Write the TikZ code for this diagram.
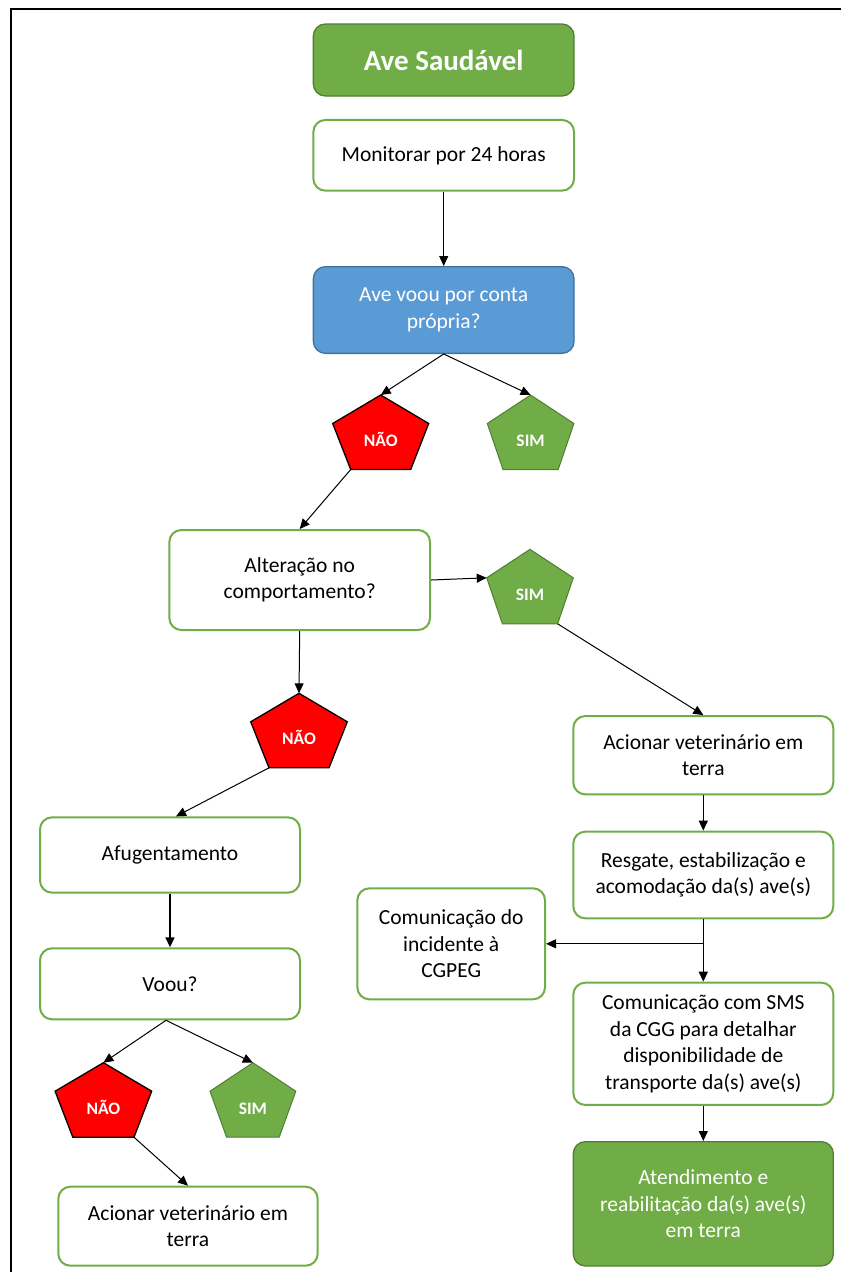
\documentclass[tikz,border=0pt]{standalone}
\usepackage{fontspec}
\setmainfont{Carlito}
\usetikzlibrary{arrows.meta}
\definecolor{gfill}{HTML}{70AD47}
\definecolor{gdark}{HTML}{507E32}
\definecolor{bfill}{HTML}{5B9BD5}
\definecolor{bdark}{HTML}{41719C}
\definecolor{rfill}{HTML}{FF0000}
\tikzset{
  box/.style={draw=gfill, line width=2pt, fill=white, rounded corners=12pt, align=center, inner sep=0pt,
    font=\fontsize{21.5pt}{26.5pt}\selectfont},
  gbox/.style={box, draw=gdark, line width=1.3pt, fill=gfill, text=white},
  bbox/.style={box, draw=bdark, line width=1.3pt, fill=bfill, text=white},
  redp/.style={fill=rfill, draw=black, line width=1.3pt, line join=miter},
  grnp/.style={fill=gfill, draw=gdark, line width=1pt, line join=miter},
  penttext/.style={text=white, font=\bfseries\fontsize{17.5pt}{21pt}\selectfont, inner sep=0pt, anchor=base},
  conn/.style={draw=black, line width=1pt, -{Triangle[length=10pt,width=9pt]}},
}
% name, cx, ytop, half width, bottom half width, style, text
\newcommand\pentag[7]{%
  \draw[#6] (#2,#3) coordinate (#1-t) -- (#2+#4,#3+28.5) coordinate (#1-r)
    -- (#2+#5,#3+74.5) coordinate (#1-br) -- (#2-#5,#3+74.5) coordinate (#1-bl)
    -- (#2-#4,#3+28.5) coordinate (#1-l) -- cycle;
  \node[penttext] (#1) at (#2,#3+51.5) {#7};
}
\begin{document}
\begin{tikzpicture}[x=1pt,y=-1pt]
\useasboundingbox (0,0) rectangle (841,1272);
\draw[line width=2pt] (11,1272) coordinate (fa) -- (11,9) coordinate (fb) -- (841,9) coordinate (fc);

% boxes
\node[gbox, minimum width=260.7pt, minimum height=72pt, font=\bfseries\fontsize{29pt}{34pt}\selectfont] (ave) at (443.7,60) {Ave Saudável};
\node[box, minimum width=260.7pt, minimum height=70.7pt] (mon) at (443.7,155.3) {Monitorar por 24 horas};
\node[bbox, minimum width=260.7pt, minimum height=86.7pt] (voou) at (443.7,310) {Ave voou por conta\\própria?};
\node[box, minimum width=260.7pt, minimum height=100pt] (alt) at (299.7,580) {Alteração no\\comportamento?};
\node[box, minimum width=260pt, minimum height=78.3pt] (acv1) at (703.3,755.2) {Acionar veterinário em\\terra};
\node[box, minimum width=260pt, minimum height=86.7pt] (res) at (703.3,875) {Resgate, estabilização e\\acomodação da(s) ave(s)};
\node[box, minimum width=187.7pt, minimum height=111pt] (cgpeg) at (451.2,943.8) {Comunicação do\\incidente à\\CGPEG};
\node[box, minimum width=260pt, minimum height=122.3pt] (sms) at (703.3,1043.8) {Comunicação com SMS\\da CGG para detalhar\\disponibilidade de\\transporte da(s) ave(s)};
\node[gbox, minimum width=260pt, minimum height=124.3pt] (atend) at (703.3,1203.8) {Atendimento e\\reabilitação da(s) ave(s)\\em terra};
\node[box, minimum width=260pt, minimum height=75.3pt] (afug) at (170,855) {Afugentamento};
\node[box, minimum width=260pt, minimum height=71pt] (voou2) at (170,983.8) {Voou?};
\node[box, minimum width=259.4pt, minimum height=79pt] (acv2) at (188,1226.2) {Acionar veterinário em\\terra};

% pentagons
\pentag{n1}{380.7}{395}{48}{30}{redp}{NÃO}
\pentag{s1}{530.6}{395}{43.3}{27.6}{grnp}{SIM}
\pentag{s2}{530}{549.3}{43.3}{27.6}{grnp}{SIM}
\pentag{n2}{299}{693.3}{48.3}{30}{redp}{NÃO}
\pentag{n3}{103.4}{1062.7}{48.3}{30.6}{redp}{NÃO}
\pentag{s3}{252.9}{1062.7}{42.9}{26.3}{grnp}{SIM}

% connectors
\draw[conn] (mon.south) -- (voou.north);
\draw[conn] (voou.south) -- (n1-t);
\draw[conn] (voou.south) -- (s1-t);
\draw[conn] (n1-bl) -- (alt.north);
\draw[conn] (alt.east) -- (s2-l);
\draw[conn] (alt.south) -- (n2-t);
\draw[conn] (s2-br) -- (acv1.north);
\draw[conn] (n2-bl) -- ([xshift=6pt]afug.north);
\draw[conn, line width=1.5pt] (afug.south) -- (voou2.north);
\draw[conn] ([xshift=-4pt]voou2.south) -- (n3-t);
\draw[conn] ([xshift=-4pt]voou2.south) -- (s3-t);
\draw[conn] (n3-br) -- (acv2.north);
\draw[conn] (acv1.south) -- (res.north);
\draw[conn, line width=1.5pt] (res.south) -- (sms.north);
\draw[conn] (res.south |- cgpeg.east) -- (cgpeg.east);
\draw[conn] (sms.south) -- (atend.north);
\end{tikzpicture}
\end{document}
